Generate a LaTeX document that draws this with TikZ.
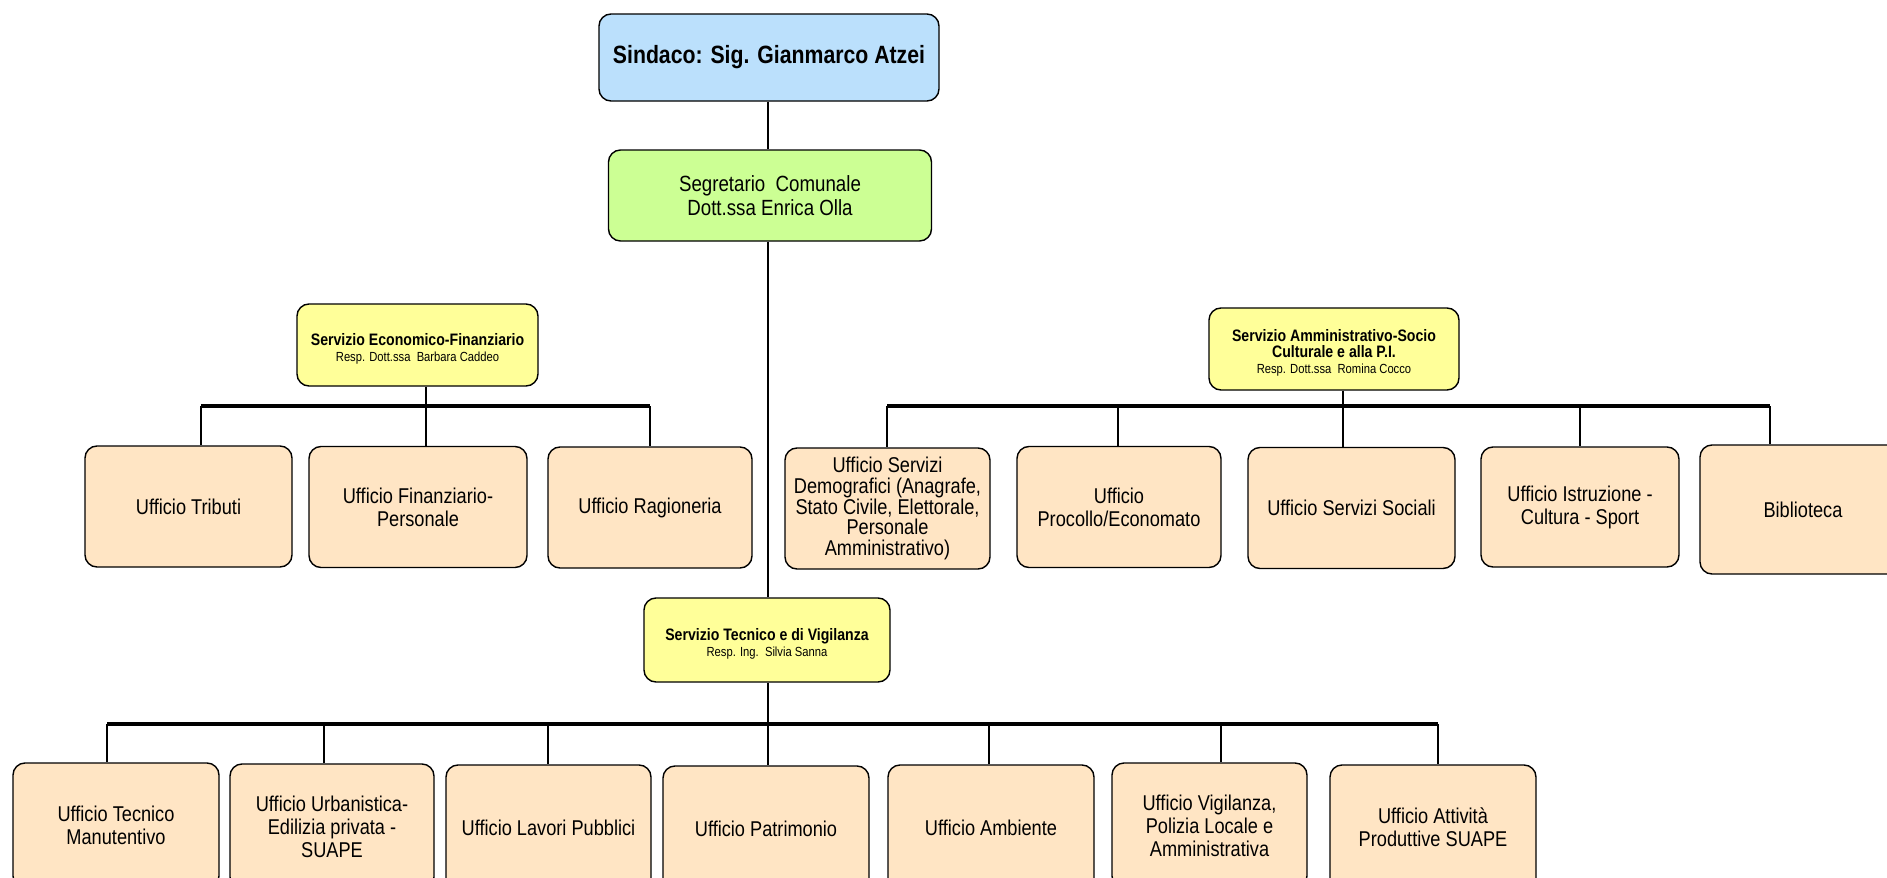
\documentclass[tikz,border=0pt]{standalone}
\usepackage{fontspec}
\setmainfont{Liberation Sans}[FakeStretch=0.85]
\definecolor{sindfill}{RGB}{187,224,252}
\definecolor{segfill}{RGB}{204,255,148}
\definecolor{servfill}{RGB}{255,255,153}
\definecolor{officefill}{RGB}{255,229,196}
\newcommand{\hd}{\fontsize{8.3}{8}\selectfont\bfseries}
\newcommand{\rs}{\fontsize{6.6}{8}\selectfont}
\newcommand{\lift}{\rule{0pt}{10pt}}
\begin{document}
\begin{tikzpicture}[x=0.5pt,y=-0.5pt,
  box/.style={draw=black, line width=0.7pt, rounded corners=6pt, align=center, inner sep=2pt},
  office/.style={box, fill=officefill, font=\fontsize{10.7}{11.5}\selectfont},
  serv/.style={box, fill=servfill, minimum height=41pt, font=\fontsize{8.3}{8}\selectfont},
  link/.style={line width=1pt},
  bus/.style={line width=2.4pt}]
\clip (0,0) rectangle (1887,878);
\useasboundingbox (0,0) rectangle (1887,878);

% top
\node[box, fill=sindfill, minimum width=170pt, minimum height=43.5pt,
      font=\fontsize{12.5}{14}\selectfont\bfseries] (sind) at (769,57.5) {Sindaco: Sig. Gianmarco Atzei};
\node[box, fill=segfill, minimum width=161.5pt, minimum height=45.5pt,
      font=\fontsize{11}{12}\selectfont] (seg) at (770,195.5) {Segretario\ \ Comunale\\Dott.ssa Enrica Olla};

% services
\node[serv, minimum width=120.5pt] (eco) at (417.5,345)
  {{\hd\lift Servizio Economico-Finanziario}\\{\rs Resp. Dott.ssa\ \ Barbara Caddeo}};
\node[serv, minimum width=125pt] (amm) at (1334,349)
  {{\hd\lift Servizio Amministrativo-Socio}\\{\hd Culturale e alla P.I.}\\{\rs Resp. Dott.ssa\ \ Romina Cocco}};
\node[serv, minimum width=123pt, minimum height=42pt] (tec) at (767,640)
  {{\hd\lift Servizio Tecnico e di Vigilanza}\\{\rs Resp. Ing.\ \ Silvia Sanna}};

% left offices
\node[office, minimum width=103.5pt, minimum height=60.5pt] (tri) at (188.5,506.5) {Ufficio Tributi};
\node[office, minimum width=109pt, minimum height=60.5pt] (fin) at (418,507) {Ufficio Finanziario-\\Personale};
\node[office, minimum width=102pt, minimum height=60.5pt] (rag) at (650,507.5) {Ufficio Ragioneria};

% right offices
\node[office, minimum width=102.5pt, minimum height=60.5pt, font=\fontsize{10.7}{10.3}\selectfont] (dem) at (887.5,508.5)
  {Ufficio Servizi\\Demografici (Anagrafe,\\Stato Civile, Elettorale,\\Personale\\Amministrativo)};
\node[office, minimum width=102pt, minimum height=60.5pt] (pro) at (1119,507) {Ufficio\\Procollo/Economato};
\node[office, minimum width=103.5pt, minimum height=60.5pt] (soc) at (1351.5,508) {Ufficio Servizi Sociali};
\node[office, minimum width=99pt, minimum height=60pt] (ist) at (1580,507) {Ufficio Istruzione -\\Cultura - Sport};
\node[office, minimum width=103pt, minimum height=64.5pt] (bib) at (1803,509.5) {Biblioteca};

% bottom offices
\node[office, minimum width=103pt, minimum height=62.5pt] (tm) at (116,825.5) {Ufficio Tecnico\\Manutentivo};
\node[office, minimum width=102pt, minimum height=62.5pt] (urb) at (332,826.5) {Ufficio Urbanistica-\\Edilizia privata -\\SUAPE};
\node[office, minimum width=102.5pt, minimum height=62.5pt] (lav) at (548.5,827.5) {Ufficio Lavori Pubblici};
\node[office, minimum width=103pt, minimum height=62.5pt] (pat) at (766,828.5) {Ufficio Patrimonio};
\node[office, minimum width=103pt, minimum height=62.5pt] (amb) at (991,827.5) {Ufficio Ambiente};
\node[office, minimum width=97.5pt, minimum height=62.5pt] (vig) at (1209.5,825.5) {Ufficio Vigilanza,\\Polizia Locale e\\Amministrativa};
\node[office, minimum width=103pt, minimum height=62.5pt] (att) at (1433,827.5) {Ufficio Attività\\Produttive SUAPE};

% bus coordinates
\coordinate (lA) at (201,406);  \coordinate (lB) at (426,406);  \coordinate (lC) at (650,406);
\coordinate (rA) at (887,406);  \coordinate (rB) at (1118,406); \coordinate (rC) at (1343,406);
\coordinate (rD) at (1580,406); \coordinate (rE) at (1770,406);
\coordinate (bA) at (107,724);  \coordinate (bB) at (324,724);  \coordinate (bC) at (548,724);
\coordinate (bD) at (768,724);  \coordinate (bE) at (989,724);  \coordinate (bF) at (1221,724);
\coordinate (bG) at (1438,724);

% trunk
\draw[link] (sind.south -| bD) -- (seg.north -| bD);
\draw[link] (seg.south -| bD) -- (tec.north -| bD);
\draw[link] (tec.south -| bD) -- (bD);

% left group
\draw[link] (eco.south -| lB) -- (lB);
\draw[bus] (lA) -- (lC);
\draw[link] (lA) -- (lA |- tri.north);
\draw[link] (lB) -- (lB |- fin.north);
\draw[link] (lC) -- (lC |- rag.north);

% right group
\draw[link] (amm.south -| rC) -- (rC);
\draw[bus] (rA) -- (rE);
\draw[link] (rA) -- (rA |- dem.north);
\draw[link] (rB) -- (rB |- pro.north);
\draw[link] (rC) -- (rC |- soc.north);
\draw[link] (rD) -- (rD |- ist.north);
\draw[link] (rE) -- (rE |- bib.north);

% bottom group
\draw[bus] (bA) -- (bG);
\draw[link] (bA) -- (bA |- tm.north);
\draw[link] (bB) -- (bB |- urb.north);
\draw[link] (bC) -- (bC |- lav.north);
\draw[link] (bD) -- (bD |- pat.north);
\draw[link] (bE) -- (bE |- amb.north);
\draw[link] (bF) -- (bF |- vig.north);
\draw[link] (bG) -- (bG |- att.north);
\end{tikzpicture}
\end{document}
